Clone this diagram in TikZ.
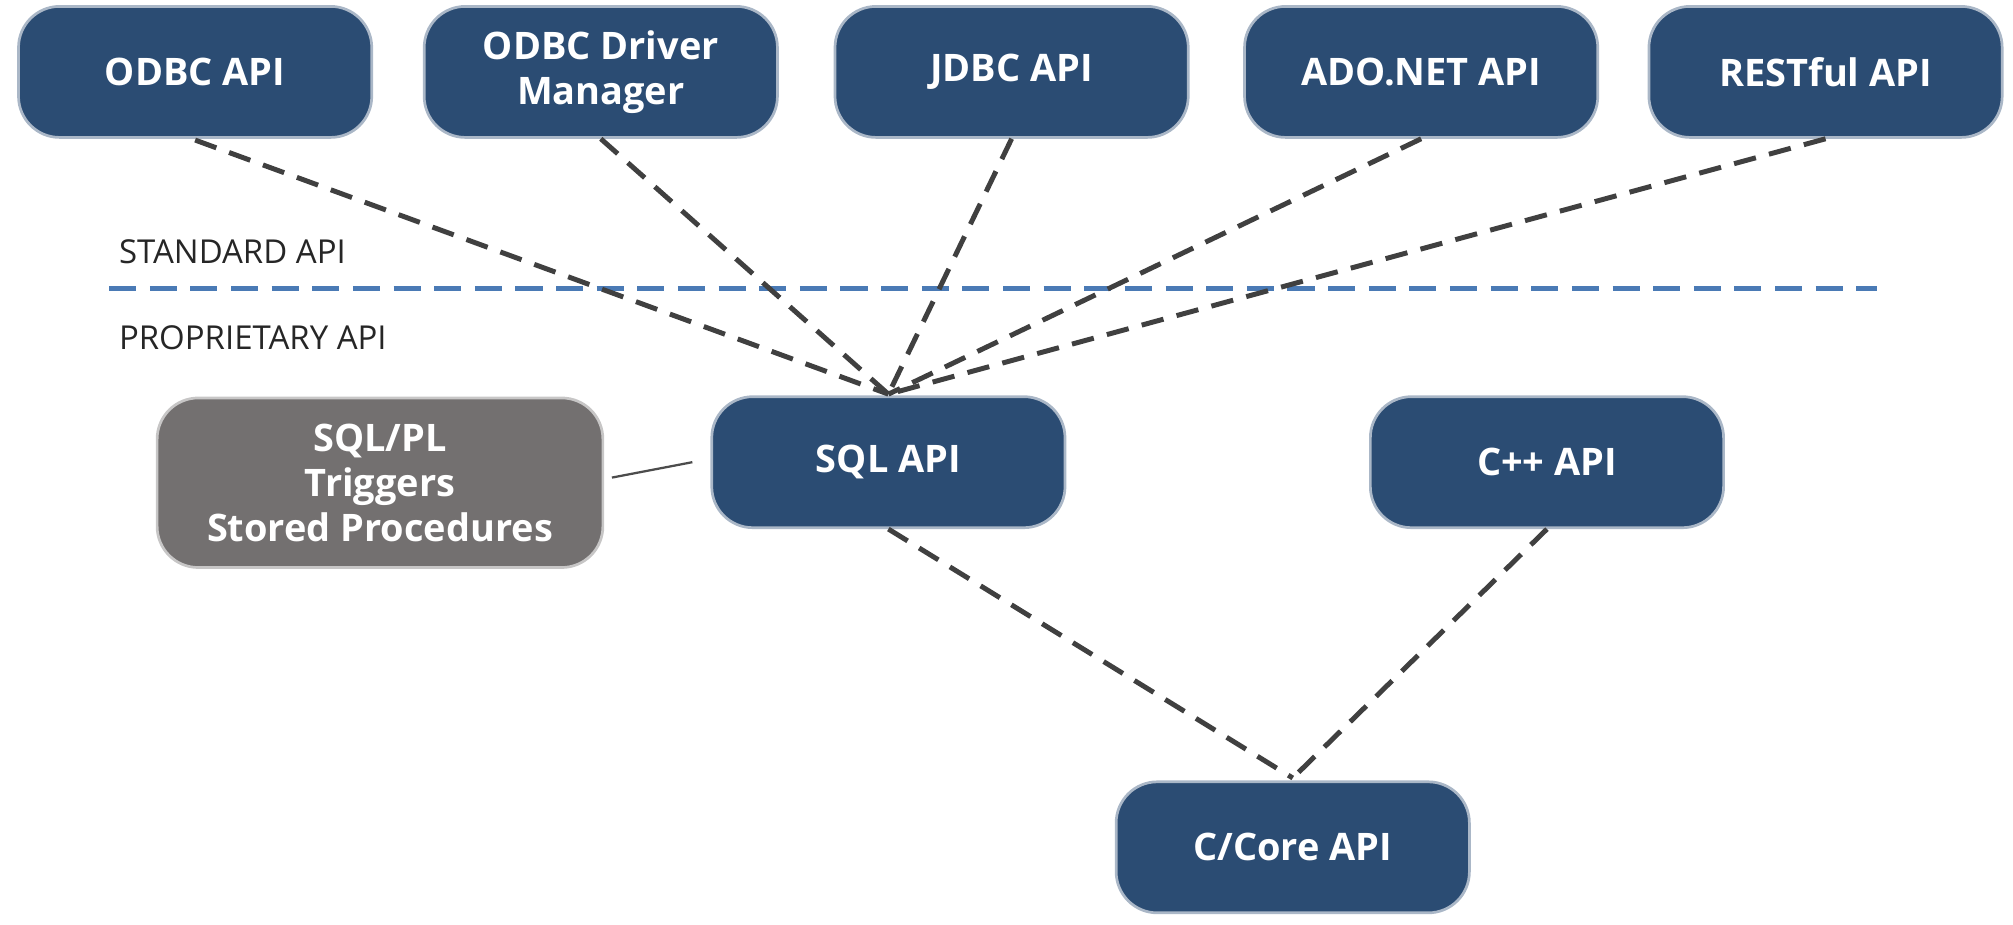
\documentclass[tikz,border=0pt]{standalone}
\usepackage{fontspec}
\setmainfont{Open Sans}
\usepackage{tikz}
\usetikzlibrary{positioning}
\definecolor{apiBlue}{HTML}{2B4C73}
\definecolor{apiGrey}{HTML}{737070}
\definecolor{lineBlue}{HTML}{4A7AB5}
\tikzset{ApiBox/.style={%
    shape=rectangle,%
    rounded corners=0.32cm,%
    fill=apiBlue,%
    draw=apiBlue!40,%
    line width=0.6pt,%
    text=white,%
    font=\fontsize{8.4pt}{10pt}\selectfont\bfseries,%
    align=center,%
    minimum width=2.75cm,%
    minimum height=1.02cm,%
    inner sep=2pt,%
}}
\tikzset{PlBox/.style={%
    ApiBox,%
    fill=apiGrey,%
    draw=apiGrey!40,%
    minimum width=3.47cm,%
    minimum height=1.32cm,%
}}
\tikzset{DashEdge/.style={%
    dashed,%
    dash pattern=on 5pt off 3pt,%
    line width=1.1pt,%
    draw=black!75,%
}}
\tikzset{LayerLabel/.style={%
    anchor=west,%
    font=\fontsize{7.3pt}{9pt}\selectfont,%
    text=black!85,%
    inner sep=0pt,%
}}

\begin{document}
\begin{tikzpicture}[x=0.01cm,y=-0.01cm]
    \useasboundingbox (0,0) rectangle (1568,720);
    % top row
    \node[ApiBox] (odbc) at (152,56) {ODBC API};
    \node[ApiBox] (driver) at (468,56) {ODBC Driver\\Manager};
    \node[ApiBox] (jdbc) at (788,56) {JDBC API};
    \node[ApiBox] (ado) at (1107,56) {ADO.NET API};
    \node[ApiBox] (rest) at (1422,56) {RESTful API};
    % middle row
    \node[PlBox] (sqlpl) at (296,376) {SQL/PL\\Triggers\\Stored Procedures};
    \node[ApiBox] (sql) at (692,360) {SQL API};
    \node[ApiBox] (cpp) at (1205,360) {C++ API};
    \node[ApiBox] (core) at (1007,660) {C/Core API};
    \coordinate (hub) at (692,307);
    \coordinate (meet) at (1007,606);

    % layer split
    \node[LayerLabel] (std) at (92,196) {STANDARD API};
    \node[LayerLabel] (prop) at (92,263) {PROPRIETARY API};
    \coordinate (splitL) at (85,225);
    \coordinate (splitR) at (1462,225);
    \draw[dashed, dash pattern=on 6pt off 3pt, line width=1.1pt, lineBlue] (splitL) -- (splitR);

    \draw[DashEdge] (odbc.south) ++(0,1) -- (hub);
    \draw[DashEdge] (driver.south) -- (hub);
    \draw[DashEdge] (jdbc.south) -- (hub);
    \draw[DashEdge] (ado.south) -- (hub);
    \draw[DashEdge] (rest.south) -- (hub);
    \draw[DashEdge] (sql.south) -- (meet);
    \draw[DashEdge] (cpp.south) -- (meet);
    \draw[line width=0.5pt, black!70] (sqlpl.east) ++(6,-4) -- ([xshift=-4pt]sql.west);
\end{tikzpicture}
\end{document}
